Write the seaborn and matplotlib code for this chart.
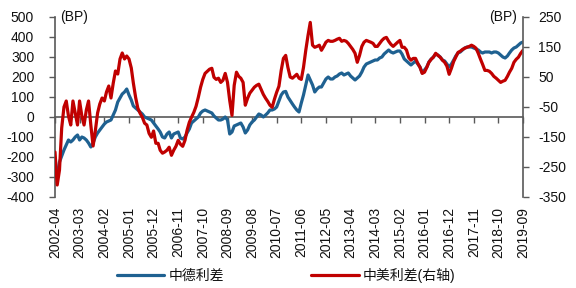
import numpy as np
import pandas as pd
import matplotlib
matplotlib.use('Agg')
import matplotlib.pyplot as plt
import matplotlib.dates as mdates
import seaborn as sns

# ---------------- data (monthly) ----------------
start_month = '2002-04'

cn_de = [  # 中德利差, left axis (BP)
    -250, -290, -225, -195, -165, -140, -115, -125, -115, -100,
    -90, -115, -100, -105, -115, -130, -150, -130, -100, -80,
    -65, -50, -35, -25, -20, -15, 10, 35, 75, 95,
    115, 125, 140, 110, 85, 55, 45, 35, 25, 15,
    0, -5, -10, -15, -30, -45, -60, -75, -100, -105,
    -85, -75, -105, -85, -80, -75, -105, -110, -100, -80,
    -60, -30, -20, -10, 0, 20, 30, 35, 30, 25,
    20, 5, -5, -15, -15, -10, 0, -15, -85, -75,
    -45, -40, -35, -30, -50, -80, -65, -40, -25, -15,
    0, 15, 10, 0, 10, 20, 35, 35, 40, 50,
    80, 110, 125, 128, 100, 82, 65, 50, 35, 25,
    70, 110, 160, 210, 185, 160, 125, 140, 150, 150,
    170, 190, 200, 190, 190, 200, 205, 215, 220, 210,
    215, 220, 205, 195, 185, 195, 205, 225, 250, 265,
    270, 275, 280, 285, 285, 295, 300, 315, 325, 335,
    325, 320, 325, 330, 330, 315, 290, 280, 270, 260,
    270, 280, 265, 250, 220, 235, 250, 275, 290, 300,
    315, 310, 300, 285, 280, 265, 250, 265, 285, 305,
    320, 325, 335, 345, 350, 350, 350, 345, 340, 335,
    325, 320, 325, 325, 325, 320, 325, 325, 320, 310,
    300, 295, 305, 320, 335, 345, 350, 360, 370, 375,
]

cn_us = [  # 中美利差, right axis (BP)
    -200, -310, -260, -120, -50, -30, -80, -110, -30, -70,
    -110, -30, -80, -110, -60, -30, -110, -180, -130, -70,
    -40, -20, -30, 0, 20, -20, 30, 70, 60, 110,
    130, 110, 120, 110, 80, 30, -18, -54, -71, -84,
    -104, -110, -138, -151, -130, -171, -171, -194, -204, -200,
    -194, -184, -211, -194, -181, -161, -174, -181, -161, -128,
    -101, -84, -68, -48, -18, 16, 42, 62, 69, 76,
    79, 49, 42, 46, 32, 39, 62, 32, -28, -78,
    22, 66, 52, 46, 32, -44, -21, -4, 6, 16,
    22, 26, 9, -8, -21, -31, -44, -51, -24, -1,
    19, 72, 112, 122, 82, 50, 46, 52, 59, 46,
    42, 82, 139, 189, 232, 156, 149, 152, 156, 139,
    152, 166, 172, 169, 169, 172, 176, 179, 169, 172,
    169, 162, 152, 142, 129, 99, 122, 152, 166, 172,
    169, 166, 162, 152, 152, 162, 172, 179, 182, 169,
    159, 152, 159, 166, 172, 149, 149, 140, 115, 106,
    112, 112, 96, 82, 62, 66, 82, 99, 109, 116,
    129, 122, 116, 106, 99, 86, 59, 79, 102, 116,
    132, 136, 142, 146, 149, 152, 156, 152, 146, 129,
    109, 92, 72, 72, 69, 62, 52, 46, 39, 32,
    36, 39, 52, 66, 79, 99, 109, 116, 129, 139,
]

xtick_labels = ['2002-04', '2003-03', '2004-02', '2005-01', '2005-12',
                '2006-11', '2007-10', '2008-09', '2009-08', '2010-07',
                '2011-06', '2012-05', '2013-04', '2014-03', '2015-02',
                '2016-01', '2016-12', '2017-11', '2018-10', '2019-09']
left_ticks = [500, 400, 300, 200, 100, 0, -100, -200, -300, -400]
right_ticks = [250, 150, 50, -50, -150, -250, -350]
series_names = ['中德利差', '中美利差(右轴)']

# ---------------- style ----------------
sns.set_style('white')
plt.rcParams['font.family'] = ['Liberation Sans', 'Noto Sans CJK SC', 'DejaVu Sans']
plt.rcParams['axes.unicode_minus'] = False

blue = '#1F6191'
red = '#C00000'
spine_c = '#595959'
txt_c = '#111111'

dates = pd.date_range(start_month, periods=len(cn_de), freq='MS')
df = pd.DataFrame({'date': dates, 'de': cn_de, 'us': cn_us})

fig = plt.figure(figsize=(5.76, 2.88), dpi=100)
ax = fig.add_axes([55 / 576, 1 - 197 / 288, 468 / 576, 180 / 288])
ax2 = ax.twinx()

sns.lineplot(data=df, x='date', y='de', ax=ax, color=blue, lw=2.3,
             label=series_names[0], legend=False)
sns.lineplot(data=df, x='date', y='us', ax=ax2, color=red, lw=2.3,
             label=series_names[1], legend=False)

tick_pos = mdates.date2num(pd.to_datetime(xtick_labels))
ax.set_xlim(mdates.date2num(dates[0]), mdates.date2num(dates[-1]))
ax.set_xticks(tick_pos)
ax.set_xticklabels(xtick_labels, rotation=90, fontsize=10, color=txt_c)
ax.tick_params(axis='x', length=0, pad=7)
ax.set_xlabel('')
ax.set_ylabel('')
ax2.set_ylabel('')

ax.set_ylim(-400, 500)
ax.set_yticks(left_ticks)
ax.set_yticklabels([str(v) for v in left_ticks], fontsize=10, color=txt_c)
ax.tick_params(axis='y', direction='out', length=4, width=1, color=spine_c,
               pad=11, left=True)

ax2.set_ylim(-350, 250)
ax2.set_yticks(right_ticks)
ax2.set_yticklabels([str(v) for v in right_ticks], fontsize=10, color=txt_c)
ax2.tick_params(axis='y', direction='out', length=4, width=1, color=spine_c,
                pad=7, right=True)

for a in (ax, ax2):
    a.grid(False)
    for s in ('top', 'bottom'):
        a.spines[s].set_visible(False)
ax.spines['right'].set_visible(False)
ax2.spines['left'].set_visible(False)
ax.spines['left'].set_color(spine_c)
ax2.spines['right'].set_color(spine_c)
ax.spines['left'].set_linewidth(1.2)
ax2.spines['right'].set_linewidth(1.2)

# zero line with tick marks
sec = ax.secondary_xaxis(400 / 900)
sec.set_xticks(tick_pos)
sec.set_xticklabels([''] * len(tick_pos))
sec.tick_params(axis='x', direction='out', length=4, width=1, color=spine_c)
sec.spines['bottom'].set_color(spine_c)
sec.spines['bottom'].set_linewidth(1.2)

ax.text(0.012, 1.0, '(BP)', transform=ax.transAxes, ha='left', va='center',
        fontsize=10, color=txt_c)
ax2.text(0.988, 1.0, '(BP)', transform=ax2.transAxes, ha='right', va='center',
         fontsize=10, color=txt_c)

h1, l1 = ax.get_legend_handles_labels()
h2, l2 = ax2.get_legend_handles_labels()
fig.legend(h1 + h2, l1 + l2, loc='center', bbox_to_anchor=(0.497, 0.045),
           ncol=2, frameon=False, handlelength=3.4, columnspacing=6.3,
           handletextpad=0.3, fontsize=10, labelcolor=txt_c)

fig.savefig('out.png', dpi=100)
